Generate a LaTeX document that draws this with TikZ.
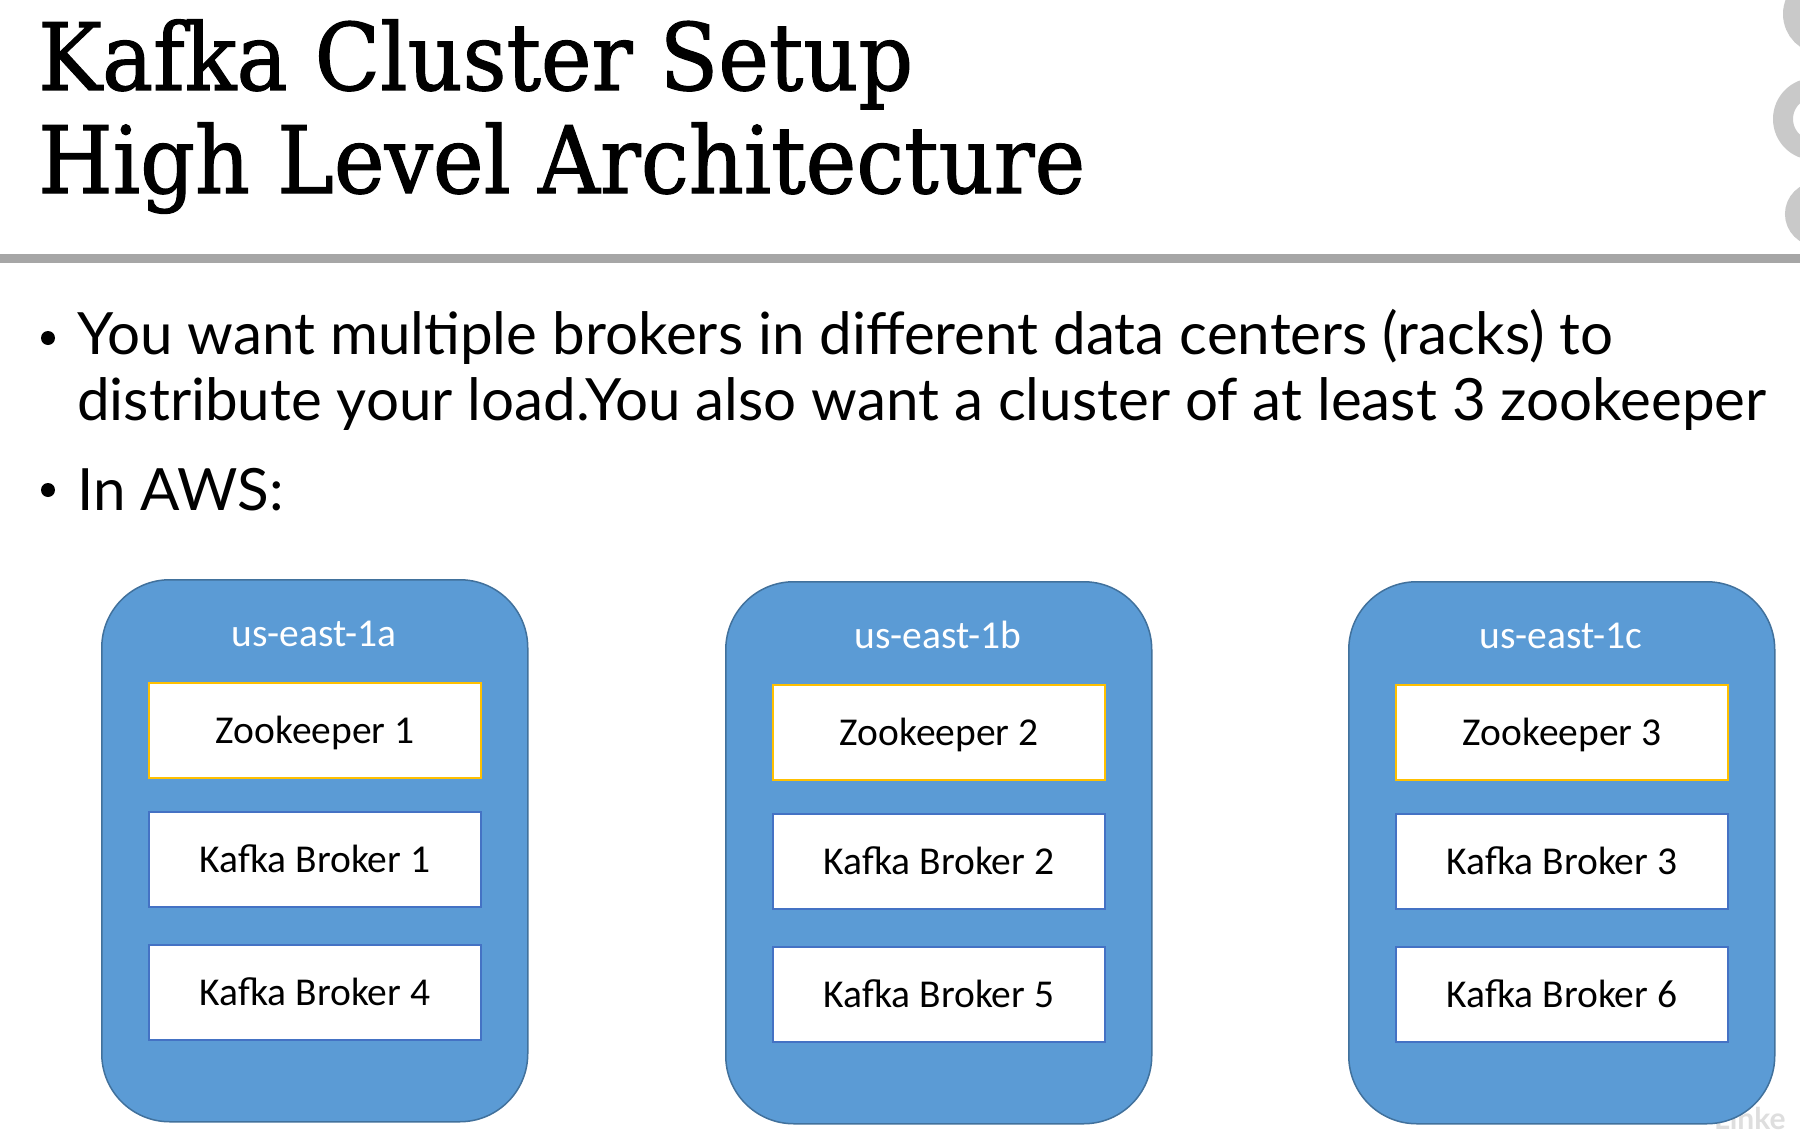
\documentclass[tikz,border=0pt]{standalone}
\usepackage{fontspec}
\setmainfont{Carlito}
\newfontfamily\titlefont[FakeStretch=0.92,FakeBold=1.2]{DejaVu Serif}
\newfontfamily\bodyfont{Lato}
\newfontfamily\boxfont{Carlito}
\definecolor{regionfill}{HTML}{5B9BD5}
\definecolor{regionline}{HTML}{41719C}
\definecolor{brokerline}{HTML}{4472C4}
\definecolor{zkline}{HTML}{FFC000}
\definecolor{rulegray}{HTML}{A6A6A6}
\definecolor{ringgray}{HTML}{C9C9C9}
\tikzset{
  region/.style={draw=regionline, line width=1.5pt, fill=regionfill, rounded corners=68pt,
    minimum width=426pt, minimum height=542pt, inner sep=0pt, anchor=north west},
  regionlabel/.style={text=white, font=\boxfont\fontsize{39.5}{42}\selectfont, inner sep=0pt, anchor=base},
  brokerbox/.style={draw=brokerline, line width=1.8pt, fill=white, minimum width=332pt,
    minimum height=95pt, inner sep=0pt, anchor=north west},
  zkbox/.style={brokerbox, draw=zkline, line width=2.2pt},
  boxtext/.style={font=\boxfont\fontsize{39.5}{42}\selectfont, inner sep=0pt, anchor=base},
  titletext/.style={font=\titlefont\fontsize{93}{100}\selectfont, inner sep=0pt, anchor=base west},
  bodytext/.style={font=\bodyfont\fontsize{58.3}{64}\selectfont, inner sep=0pt, anchor=base west},
}
\begin{document}
\begin{tikzpicture}[x=1pt,y=-1pt]
\useasboundingbox (0,0) rectangle (1800,1132);
\fill[white] (0,0) rectangle (1800,1132);
\begin{scope}
\clip (0,0) rectangle (1800,1132);
% decorative rings at the right edge
\draw[ringgray, line width=20pt] (1823,14) circle[radius=30];
\draw[ringgray, line width=20pt] (1814,119) circle[radius=31];
\draw[ringgray, line width=20pt] (1817,214) circle[radius=22];
\end{scope}
% watermark
\node[text=black!13, font=\bodyfont\bfseries\fontsize{30}{32}\selectfont, inner sep=0pt, anchor=base west] (wm) at (1714,1129) {Linke};
% title
\node[titletext] (t1) at (38,90) {Kafka Cluster Setup};
\node[titletext] (t2) at (38,193) {High Level Architecture};
\draw[rulegray, line width=9pt] (0,258) -- (1800,258);
% bullets
\fill (48,338) circle[radius=7];
\fill (48,490) circle[radius=7];
\node[bodytext] (b1) at (77,354) {You want multiple brokers in different data centers (racks) to};
\node[bodytext] (b2) at (77,420) {distribute your load.You also want a cluster of at least 3 zookeeper};
\node[bodytext] (b3) at (77,510) {In AWS:};
% regions
\foreach \i/\x/\dy/\z/\ba/\bb in {1/101/-2/1/1/4, 2/725/0/2/2/5, 3/1348/0/3/3/6}{
  \node[region] (r\i) at (\x,581+\dy) {};
  \node[regionlabel] (l\i) at (\x+213,648+\dy) {us-east-1\ifcase\i\or a\or b\or c\fi};
  \node[zkbox] (zk\i) at (\x+47,684+\dy) {};
  \node[boxtext] at ([yshift=-13pt]zk\i.center) {Zookeeper \z};
  \node[brokerbox] (ka\i) at (\x+47,813+\dy) {};
  \node[boxtext] at ([yshift=-13pt]ka\i.center) {Kafka Broker \ba};
  \node[brokerbox] (kb\i) at (\x+47,946+\dy) {};
  \node[boxtext] at ([yshift=-13pt]kb\i.center) {Kafka Broker \bb};
}
\end{tikzpicture}
\end{document}
